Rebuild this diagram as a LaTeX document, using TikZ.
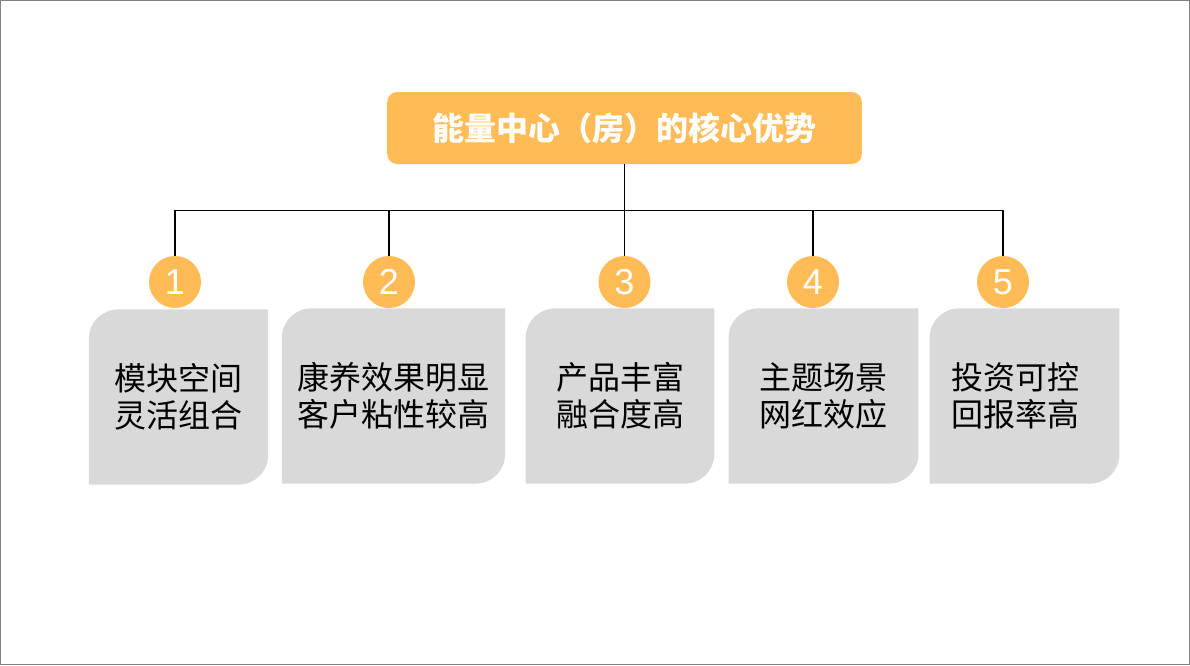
\documentclass[tikz,border=0pt]{standalone}
\usepackage{fontspec}
\setmainfont{Liberation Sans}
\newfontfamily\cjk{Noto Sans CJK SC}
\usepackage{xcolor}
\usepackage{tikz}
\usetikzlibrary{backgrounds, positioning}

\definecolor{sunorange}{RGB}{255,187,85}
\definecolor{leafgray}{RGB}{217,217,217}
\definecolor{framegray}{RGB}{128,128,128}

% leaf shaped fill behind a named node: rounded top-left and bottom-right
\newcommand{\leafshape}[1]{%
  \fill[leafgray] (#1.south west) -- ([yshift=-22pt]#1.north west)
    arc[start angle=180, end angle=90, radius=22pt] -- (#1.north east)
    -- ([yshift=22pt]#1.south east)
    arc[start angle=0, end angle=-90, radius=22pt] -- cycle;}

\begin{document}
\begin{tikzpicture}[
    x=0.75pt, y=-0.75pt,
    title box/.style = {
        rectangle,
        rounded corners=7.5pt,
        fill=sunorange,
        text=white,
        minimum width=356pt,
        minimum height=54pt,
        font=\cjk\bfseries\fontsize{24}{28}\selectfont
    },
    num badge/.style = {
        circle,
        fill=sunorange,
        text=white,
        minimum size=39pt,
        inner sep=0pt,
        font=\fontsize{27}{30}\selectfont
    },
    leaf box/.style = {
        rectangle,
        minimum width=#1,
        minimum height=131pt,
        inner sep=0pt,
        align=center,
        font=\cjk\fontsize{24}{28}\selectfont
    },
    tie/.style = {draw=black, line width=0.8pt}
]
\useasboundingbox (0,0) rectangle (1190,665);
\draw[framegray, line width=1.05pt] (0.7,0.7) rectangle (1189.3,664.3);

\node [title box] (title) at (624.5,128) {能量中心（房）的核心优势};
\coordinate (hub) at (624.5,210.5);

\node [num badge] (n1) at (175,282) {1};
\node [num badge] (n2) at (389,282) {2};
\node [num badge] (n3) at (624.5,282) {3};
\node [num badge] (n4) at (813,282) {4};
\node [num badge] (n5) at (1003,282) {5};

\node [leaf box=134pt] (b1) at (178.5,397) {模块空间\\灵活组合};
\node [leaf box=167pt] (b2) at (393.5,396) {康养效果明显\\客户粘性较高};
\node [leaf box=141pt] (b3) at (620,396) {产品丰富\\融合度高};
\node [leaf box=142pt] (b4) at (823.5,396) {主题场景\\网红效应};
\node [leaf box=142pt, text width=110pt, align=left] (b5) at (1024.5,396) {投资可控\\回报率高};

\begin{scope}[on background layer]
    \leafshape{b1}
    \leafshape{b2}
    \leafshape{b3}
    \leafshape{b4}
    \leafshape{b5}
\end{scope}

\draw [tie] (title.south) -- (hub);
\draw [tie] (hub) -| (n1.north);
\draw [tie] (hub) -| (n2.north);
\draw [tie] (hub) -- (n3.north);
\draw [tie] (hub) -| (n4.north);
\draw [tie] (hub) -| (n5.north);

\end{tikzpicture}
\end{document}
